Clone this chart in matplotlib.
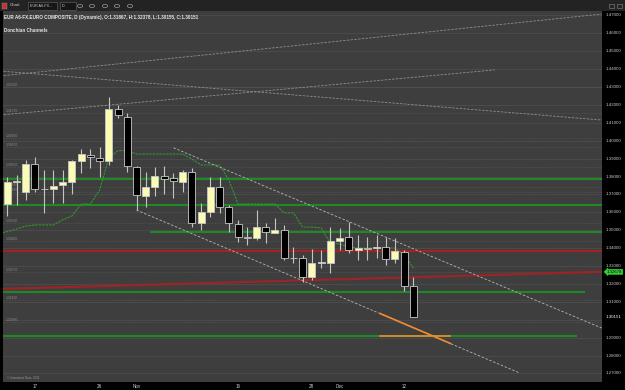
import matplotlib
matplotlib.use("Agg")
import matplotlib.pyplot as plt
import matplotlib.transforms as mtransforms
from matplotlib.patches import Rectangle, Circle
import pandas as pd

# ---------------- data ----------------
dates = list(pd.bdate_range("2011-10-12", "2011-12-13").strftime("%Y-%m-%d"))

opens = [1.3647, 1.3770, 1.3716, 1.3870, 1.3729, 1.3731, 1.3755, 1.3772, 1.3889, 1.3921,
         1.3902, 1.3889, 1.4176, 1.4135, 1.3855, 1.3692, 1.3744, 1.3803, 1.3791, 1.3772,
         1.3827, 1.3542, 1.3602, 1.3740, 1.3629, 1.3535, 1.3461, 1.3455, 1.3517, 1.3487,
         1.3502, 1.3344, 1.3344, 1.3237, 1.3318, 1.3316, 1.3442, 1.3461, 1.3390, 1.3399,
         1.3399, 1.3408, 1.3340, 1.3380, 1.3187]
highs = [1.3796, 1.3809, 1.3893, 1.3911, 1.3837, 1.3837, 1.3837, 1.3893, 1.3953, 1.3953,
         1.3967, 1.4243, 1.4200, 1.4157, 1.3860, 1.3827, 1.3852, 1.3859, 1.3822, 1.3837,
         1.3846, 1.3653, 1.3796, 1.3799, 1.3641, 1.3558, 1.3520, 1.3613, 1.3542, 1.3567,
         1.3530, 1.3408, 1.3362, 1.3394, 1.3390, 1.3520, 1.3511, 1.3548, 1.3474, 1.3464,
         1.3474, 1.3461, 1.3455, 1.3390, 1.3238]
lows = [1.3580, 1.3641, 1.3669, 1.3716, 1.3597, 1.3653, 1.3653, 1.3703, 1.3818, 1.3846,
        1.3796, 1.3865, 1.4129, 1.3827, 1.3613, 1.3632, 1.3692, 1.3703, 1.3679, 1.3716,
        1.3520, 1.3502, 1.3576, 1.3595, 1.3492, 1.3436, 1.3418, 1.3446, 1.3427, 1.3483,
        1.3334, 1.3316, 1.3213, 1.3222, 1.3288, 1.3260, 1.3390, 1.3372, 1.3334, 1.3334,
        1.3344, 1.3306, 1.3316, 1.3163, 1.3015]
closes = [1.3772, 1.3774, 1.3870, 1.3732, 1.3733, 1.3749, 1.3768, 1.3887, 1.3926, 1.3908,
          1.3889, 1.4176, 1.4144, 1.3859, 1.3697, 1.3740, 1.3803, 1.3785, 1.3775, 1.3827,
          1.3542, 1.3602, 1.3740, 1.3629, 1.3539, 1.3461, 1.3459, 1.3520, 1.3491, 1.3502,
          1.3344, 1.3346, 1.3241, 1.3319, 1.3321, 1.3442, 1.3459, 1.3390, 1.3399, 1.3398,
          1.3408, 1.3338, 1.3386, 1.3189, 1.30151]

# Donchian line, bar positions -1 .. 44
donchian_pos = list(range(-1, 45))
donchian = [1.3483, 1.3492, 1.3507, 1.3524, 1.3530, 1.3530, 1.3530, 1.3558, 1.3580, 1.3647,
            1.3647, 1.3725, 1.3904, 1.3945, 1.3945, 1.3926, 1.3926, 1.3926, 1.3926, 1.3926,
            1.3926, 1.3898, 1.3865, 1.3865, 1.3865, 1.3781, 1.3647, 1.3647, 1.3647, 1.3647,
            1.3647, 1.3597, 1.3597, 1.3518, 1.3518, 1.3513, 1.3429, 1.3424, 1.3407, 1.3401,
            1.3401, 1.3401, 1.3401, 1.3401, 1.3362, 1.3289]

grid_levels = [1.27, 1.28, 1.29, 1.30, 1.31, 1.32, 1.33, 1.34, 1.35, 1.36, 1.37,
               1.38, 1.39, 1.40, 1.41, 1.42, 1.43, 1.44, 1.45, 1.46, 1.47]
ytick_levels = [1.27, 1.28, 1.29, 1.31, 1.32, 1.33, 1.34, 1.35, 1.36, 1.37,
                1.38, 1.39, 1.40, 1.41, 1.42, 1.43, 1.44, 1.45, 1.46, 1.47]
ytick_labels = ["%.5f" % v for v in ytick_levels]
last_close_label = "1.30151"
marker_value = 1.3268
marker_label = "1.32678"

xtick_dates = ["2011-10-17", "2011-10-26", "2011-11-01", "2011-11-16",
               "2011-11-28", "2011-12-01", "2011-12-12"]
xtick_labels = ["17", "26", "Nov", "16", "28", "Dec", "12"]

# horizontal support / resistance (level, start bar, end bar)
green_levels = [1.3789, 1.3643, 1.3488, 1.3157, 1.2907]
green_start = [-1, -1, 15.5, -1, -1]
green_end = [66, 66, 66, 62.6, 61.7]
red_level = 1.3387
red_slant_x = [-0.8, 64.4]
red_slant_y = [1.3172, 1.3268]

# trend lines (bar positions, prices)
lower_tr_x, lower_tr_y = [14, 55.5], [1.3613, 1.2703]
upper_tr_x, upper_tr_y = [18.0, 64.4], [1.3961, 1.2954]
orange_diag_x, orange_diag_y = [40.4, 48.0], [1.3035, 1.2868]
orange_hor_x, orange_hor_y = [40.4, 48.0], [1.2907, 1.2907]
fan_a_x, fan_a_y = [-0.8, 52.8], [1.4144, 1.4396]
fan_b_x, fan_b_y = [-0.8, 64.4], [1.4390, 1.4116]
fan_c_x, fan_c_y = [-0.8, 64.4], [1.4362, 1.4708]

left_levels = [1.4301, 1.4157, 1.4016, 1.3967, 1.3855, 1.3744, 1.3716, 1.3539,
               1.3440, 1.3267, 1.3111, 1.2988]
left_labels = ["%.5f" % v for v in left_levels]

title_text = "EUR A6-FX.EURO COMPOSITE, D (Dynamic), O:1.31867, H:1.32378, L:1.30155, C:1.30151"
indicator_text = "Donchian Channels"

# ---------------- figure ----------------
W, H = 625, 390
plt.rcParams["font.family"] = ["Liberation Sans", "DejaVu Sans"]
fig = plt.figure(figsize=(W / 100, H / 100), dpi=100, facecolor="#000000")

def fx(x):
    return x / W

def fy(y):
    return 1 - y / H

ax_left, ax_right, ax_top, ax_bot = 3, 602, 11, 382
ax = fig.add_axes([fx(ax_left), fy(ax_bot), (ax_right - ax_left) / W, (ax_bot - ax_top) / H])
ax.set_facecolor("#3e3e3e")
for s in ax.spines.values():
    s.set_visible(False)

n = len(dates)
pos = list(range(n))
ax.set_xlim(-0.466, 64.43)
ax.set_ylim(1.26525, 1.47251)

# grid
for g in grid_levels:
    ax.axhline(g, color="#5c5c5c", lw=0.6, ls=(0, (1.2, 1.2)), zorder=1)
for g in left_levels:
    ax.axhline(g, color="#555555", lw=0.5, ls=(0, (2, 2)), zorder=1)

# fan lines
for xs, ys in [(fan_a_x, fan_a_y), (fan_b_x, fan_b_y), (fan_c_x, fan_c_y)]:
    ax.plot(xs, ys, color="#8e8e8e", lw=0.6, ls=(0, (3, 1.5)), zorder=2)

# horizontal levels
for lv, a, b in zip(green_levels, green_start, green_end):
    ax.plot([a, b], [lv, lv], color="#1f8a24", lw=1.5, zorder=3, solid_capstyle="butt")
ax.axhline(red_level, color="#a52222", lw=1.6, zorder=3)
ax.plot(red_slant_x, red_slant_y, color="#9c2424", lw=1.6, zorder=3)

# donchian
ax.plot(donchian_pos, donchian, color="#2fa12f", lw=0.7, ls=(0, (2.5, 1)), zorder=4)

# trend channel
ax.plot(lower_tr_x, lower_tr_y, color="#b8b8b8", lw=0.6, ls=(0, (3, 2)), zorder=4)
ax.plot(upper_tr_x, upper_tr_y, color="#b8b8b8", lw=0.6, ls=(0, (3, 2)), zorder=4)
ax.plot(orange_diag_x, orange_diag_y, color="#f28a2e", lw=1.2, zorder=4)
ax.plot(orange_hor_x, orange_hor_y, color="#f28a2e", lw=1.2, zorder=4)

# candles
ax.vlines(pos, lows, highs, color="#c4c4c4", lw=0.8, zorder=5)
bodies = [c - o for o, c in zip(opens, closes)]
bcol = ["#fbfbb6" if c >= o else "#000000" for o, c in zip(opens, closes)]
ax.bar(pos, bodies, bottom=opens, width=0.76, color=bcol, edgecolor="#c8c8c8",
       linewidth=0.6, zorder=6)

# x ticks
xt = [dates.index(d) for d in xtick_dates]
ax.set_xticks(xt)
ax.set_xticklabels(xtick_labels)
ax.tick_params(axis="x", length=0, pad=1.2, labelsize=3.3, labelcolor="#c8c8c8")
ax.set_yticks([])

# right axis labels
trans = mtransforms.blended_transform_factory(ax.transAxes, ax.transData)
for v, t in zip(ytick_levels, ytick_labels):
    ax.text(1.006, v, t, transform=trans, fontsize=3.2, color="#c8c8c8",
            va="center", ha="left", clip_on=False)
ax.text(1.006, closes[-1], last_close_label, transform=trans, fontsize=3.2,
        color="#ffffff", va="center", ha="left", clip_on=False)
ax.text(1.008, marker_value, marker_label, transform=trans, fontsize=3.1,
        color="#000000", va="center", ha="left", clip_on=False,
        bbox=dict(boxstyle="larrow,pad=0.15", fc="#34d034", ec="#34d034", lw=0.3))

# left small labels
for v, t in zip(left_levels, left_labels):
    ax.text(0.004, v, t, transform=trans, fontsize=2.4, color="#8a8a8a",
            va="bottom", ha="left")

# texts in plot
fig.text(fx(4), fy(17.5), title_text, fontsize=3.3, color="#e6e6e6",
         va="center", ha="left", fontweight="bold")
fig.text(fx(4), fy(30), indicator_text, fontsize=3.3, color="#e6e6e6",
         va="center", ha="left", fontweight="bold")
fig.text(fx(7), fy(378), "\u00a9 Interactive Data, 2011", fontsize=2.2,
         color="#9a9a9a", va="center", ha="left")

# title bar
fig.add_artist(Rectangle((0, fy(11)), 1, 11 / H, transform=fig.transFigure,
                         fc="#232323", ec="none"))
fig.add_artist(Rectangle((fx(2), fy(9)), 5 / W, 6 / H, transform=fig.transFigure,
                         fc="#c43434", ec="#888888", lw=0.3))
fig.text(fx(10), fy(5.5), "Chart", fontsize=3.2, color="#cfcfcf", va="center", ha="left")
fig.add_artist(Rectangle((fx(28), fy(10)), 29 / W, 8 / H, transform=fig.transFigure,
                         fc="#161616", ec="#6a6a6a", lw=0.4))
fig.text(fx(30), fy(6), "EUR A6-FX...", fontsize=2.7, color="#cfcfcf", va="center", ha="left")
fig.add_artist(Rectangle((fx(60), fy(10)), 16 / W, 8 / H, transform=fig.transFigure,
                         fc="#161616", ec="#6a6a6a", lw=0.4))
fig.text(fx(62), fy(6), "D", fontsize=2.7, color="#cfcfcf", va="center", ha="left")
for cx in [80, 92, 105, 117, 130]:
    fig.add_artist(Circle((fx(cx), fy(6)), 2.6 / W, transform=fig.transFigure,
                          fc="none", ec="#9a9a9a", lw=0.5))
for rx in [609, 617]:
    fig.add_artist(Rectangle((fx(rx), fy(8)), 5 / W, 4 / H, transform=fig.transFigure,
                             fc="none", ec="#8a8a8a", lw=0.4))

fig.savefig("out.png", dpi=100, facecolor=fig.get_facecolor())
